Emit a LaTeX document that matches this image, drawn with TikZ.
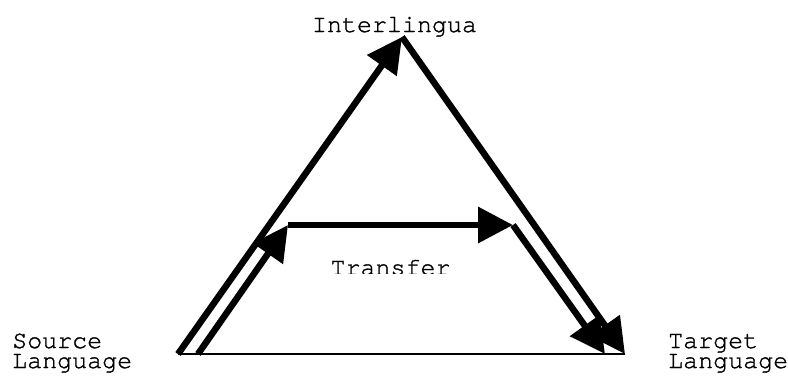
\documentclass[tikz,border=0pt]{standalone}
\usepackage{fontspec}
\setmonofont[FakeBold=1.2]{TeX Gyre Cursor}
\usepackage{tikz}
\usetikzlibrary{arrows.meta}
\tikzset{%
    lbl/.style={inner sep=0pt,align=left,font=\ttfamily\fontsize{25}{20}\selectfont}
}

\begin{document}
\begin{tikzpicture}[
        x=1pt,y=-1pt,
        edge/.style={line width=6.5pt},
        arr/.style={edge,-{Triangle[length=35pt,width=35pt]}},
        base/.style={line width=1.5pt}
        ]
        \useasboundingbox (0,0) rectangle (788,378);

        \coordinate (src) at (178,354);
        \coordinate (inter) at (402,37);
        \coordinate (tgt) at (625,354);

        \coordinate (src2) at (198,354);
        \coordinate (ta) at (288,225);
        \coordinate (tb) at (513,225);
        \coordinate (tgt2) at (605,354);

        \node[lbl,anchor=base] (il) at (394.5,32) {Interlingua};
        \node[lbl,anchor=base west] (sl) at (12,368) {Source\\Language};
        \node[lbl,anchor=base west] (tl) at (668,368) {Target\\Language};
        \begin{scope}
            \clip (300,240) rectangle (480,273);
            \node[lbl,anchor=base] (tr) at (390.5,275) {Transfer};
        \end{scope}

        \draw[base] (src) -- (tgt);

        \draw[arr] (src) -- (inter);
        \draw[arr] (inter) -- (tgt);

        \draw[arr] (src2) -- (ta);
        \draw[arr] (ta) -- (tb);
        \draw[arr] (tb) -- (tgt2);
    \end{tikzpicture}
\end{document}
